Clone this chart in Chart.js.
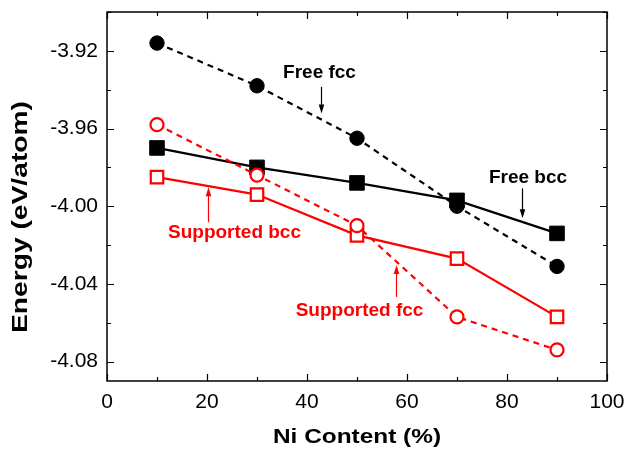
<!DOCTYPE html>
<html><head><meta charset="utf-8">
<script src="https://cdn.jsdelivr.net/npm/chart.js@4.4.1/dist/chart.umd.min.js"></script>
<style>html,body{margin:0;padding:0;background:#fff;} canvas{display:block}</style>
</head><body>
<canvas id="c" width="629" height="450"></canvas>
<script>
// ---- data ----
const niContent = [10, 30, 50, 70, 90];
const freeFcc = [-3.916, -3.938, -3.965, -4.000, -4.031];
const freeBcc = [-3.970, -3.980, -3.988, -3.997, -4.014];
const supportedFcc = [-3.958, -3.984, -4.010, -4.057, -4.074];
const supportedBcc = [-3.985, -3.994, -4.015, -4.027, -4.057];
const xTicks = [0, 20, 40, 60, 80, 100];
const yTicks = [-4.08, -4.04, -4.00, -3.96, -3.92];
const xTitle = 'Ni Content (%)';
const yTitle = 'Energy (eV/atom)';
const seriesNames = ['Supported fcc', 'Supported bcc', 'Free bcc', 'Free fcc'];
// annotation labels (data coordinates)
const noteText = ['Free fcc', 'Free bcc', 'Supported bcc', 'Supported fcc'];
const noteX = [42.5, 84.2, 25.5, 50.5];
const noteY = [-3.9315, -3.9856, -4.0136, -4.0538];
const arrowX = [42.8, 83, 20.2, 57.8];
const arrowFrom = [-3.9385, -3.9908, -4.0082, -4.0467];
const arrowTo = [-3.9523, -4.0062, -3.9903, -4.0303];

// ---- style ----
const FONT = "'Liberation Sans', Arial, sans-serif";
const RED = '#ff0000', BLACK = '#000000';
const noteColor = [BLACK, BLACK, RED, RED];

const pts = arr => niContent.map((x, i) => ({x, y: arr[i]}));

const framePlugin = {
  id: 'frame',
  beforeDatasetsDraw(chart) {
    const {ctx, chartArea: a, scales: {x, y}} = chart;
    ctx.save();
    ctx.strokeStyle = BLACK;
    ctx.lineWidth = 1.5;
    ctx.strokeRect(a.left, a.top, a.right - a.left, a.bottom - a.top);
    ctx.lineWidth = 1.2;
    ctx.beginPath();
    for (let v = 0; v <= 100; v += 10) {
      const px = Math.round(x.getPixelForValue(v)) + 0.5;
      const L = (v % 20 === 0) ? 7 : 4;
      ctx.moveTo(px, a.bottom); ctx.lineTo(px, a.bottom - L);
      ctx.moveTo(px, a.top); ctx.lineTo(px, a.top + L);
    }
    for (let k = -408; k <= -390; k += 2) {
      const v = k / 100;
      const py = Math.round(y.getPixelForValue(v)) + 0.5;
      const L = (k % 4 === 0) ? 7 : 4;
      ctx.moveTo(a.left, py); ctx.lineTo(a.left + L, py);
      ctx.moveTo(a.right, py); ctx.lineTo(a.right - L, py);
    }
    ctx.stroke();
    ctx.restore();
  },
  afterDraw(chart) {
    const {ctx, chartArea: a, scales: {x, y}} = chart;
    ctx.save();
    const drawStretched = (text, cx, cy, rot, size, target) => {
      ctx.save();
      ctx.font = 'bold ' + size + 'px ' + FONT;
      const w = ctx.measureText(text).width;
      ctx.translate(cx, cy);
      ctx.rotate(rot);
      ctx.scale(target / w, 1);
      ctx.fillStyle = BLACK;
      ctx.textAlign = 'center';
      ctx.textBaseline = 'middle';
      ctx.fillText(text, 0, 0);
      ctx.restore();
    };
    drawStretched(xTitle, (a.left + a.right) / 2, 437, 0, 21, 168);
    drawStretched(yTitle, 21, 217, -Math.PI / 2, 22, 232);
    ctx.font = 'bold 19px ' + FONT;
    ctx.textAlign = 'center';
    ctx.textBaseline = 'middle';
    for (let i = 0; i < noteText.length; i++) {
      ctx.fillStyle = noteColor[i];
      ctx.strokeStyle = noteColor[i];
      ctx.fillText(noteText[i], x.getPixelForValue(noteX[i]), y.getPixelForValue(noteY[i]));
      const ax = Math.round(x.getPixelForValue(arrowX[i])) + 0.5;
      const y0 = y.getPixelForValue(arrowFrom[i]);
      const y1 = y.getPixelForValue(arrowTo[i]);
      const dir = Math.sign(y1 - y0);
      ctx.lineWidth = 1.2;
      ctx.beginPath();
      ctx.moveTo(ax, y0); ctx.lineTo(ax, y1 - dir * 6);
      ctx.stroke();
      ctx.beginPath();
      ctx.moveTo(ax, y1);
      ctx.lineTo(ax - 2.8, y1 - dir * 9);
      ctx.lineTo(ax + 2.8, y1 - dir * 9);
      ctx.closePath();
      ctx.fill();
    }
    ctx.restore();
  }
};

new Chart(document.getElementById('c'), {
  type: 'line',
  data: {
    datasets: [
      {label: seriesNames[0], data: pts(supportedFcc), borderColor: RED, borderWidth: 2.2, borderDash: [6, 5],
       pointStyle: 'circle', pointRadius: 6.5, pointBorderWidth: 2.2, pointBackgroundColor: '#fff', pointBorderColor: RED},
      {label: seriesNames[1], data: pts(supportedBcc), borderColor: RED, borderWidth: 2.2,
       pointStyle: 'rect', pointRadius: 8.8, pointBorderWidth: 2.2, pointBackgroundColor: '#fff', pointBorderColor: RED},
      {label: seriesNames[2], data: pts(freeBcc), borderColor: BLACK, borderWidth: 2.2,
       pointStyle: 'rect', pointRadius: 10.3, pointBorderWidth: 1, pointBackgroundColor: BLACK, pointBorderColor: BLACK},
      {label: seriesNames[3], data: pts(freeFcc), borderColor: BLACK, borderWidth: 2.2, borderDash: [6, 5],
       pointStyle: 'circle', pointRadius: 7.2, pointBorderWidth: 1, pointBackgroundColor: BLACK, pointBorderColor: BLACK}
    ]
  },
  options: {
    responsive: false,
    devicePixelRatio: 1,
    animation: false,
    layout: {padding: {left: 0, right: 22, top: 12, bottom: 0}},
    plugins: {legend: {display: false}, tooltip: {enabled: false}},
    elements: {line: {tension: 0}},
    scales: {
      x: {
        type: 'linear', min: 0, max: 100,
        grid: {display: false, drawTicks: false},
        border: {display: false},
        afterBuildTicks: s => { s.ticks = xTicks.map(v => ({value: v})); },
        afterFit: s => { s.height = 69; s.paddingLeft = 0; s.paddingRight = 0; },
        ticks: {font: {family: FONT, size: 21}, color: BLACK, padding: 9, maxRotation: 0, autoSkip: false}
      },
      y: {
        type: 'linear', min: -4.09, max: -3.90,
        grid: {display: false, drawTicks: false},
        border: {display: false},
        afterBuildTicks: s => { s.ticks = yTicks.map(v => ({value: v})); },
        afterFit: s => { s.width = 107; s.paddingTop = 0; s.paddingBottom = 0; },
        ticks: {font: {family: FONT, size: 21}, color: BLACK, padding: 9, autoSkip: false,
                callback: v => Number(v).toFixed(2)}
      }
    }
  },
  plugins: [framePlugin]
});
</script>
</body></html>
